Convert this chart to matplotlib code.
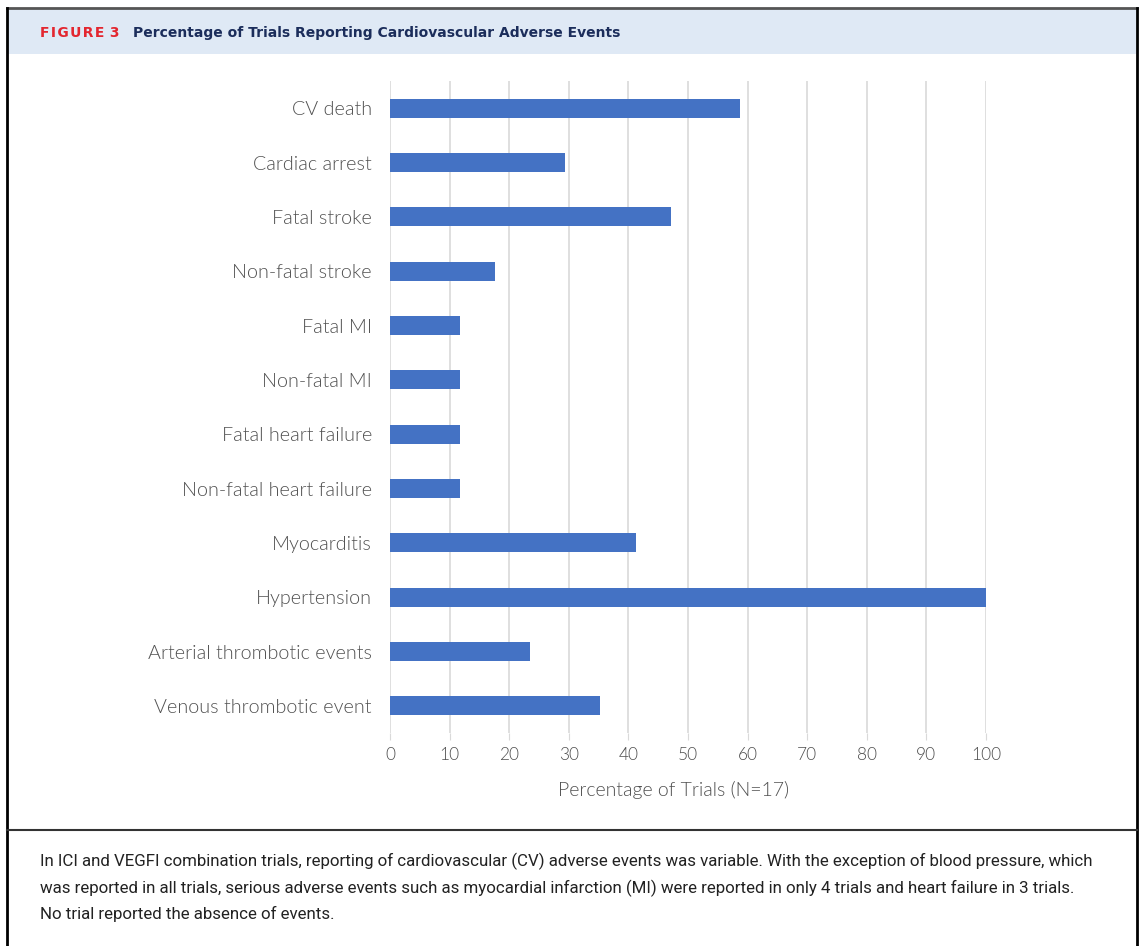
import matplotlib.pyplot as plt
from matplotlib.lines import Line2D
from matplotlib.patches import Rectangle

# ── Data ──────────────────────────────────────────────────────────────────────
categories = [
    "CV death", "Cardiac arrest", "Fatal stroke", "Non-fatal stroke",
    "Fatal MI", "Non-fatal MI", "Fatal heart failure", "Non-fatal heart failure",
    "Myocarditis", "Hypertension", "Arterial thrombotic events",
    "Venous thrombotic event",
]
pct_trials = [58.8, 29.4, 47.1, 17.6, 11.8, 11.8, 11.8, 11.8, 41.2, 100.0, 23.5, 35.3]
x_ticks = [0, 10, 20, 30, 40, 50, 60, 70, 80, 90, 100]

caption = (
    "In ICI and VEGFI combination trials, reporting of cardiovascular (CV) adverse events was variable. "
    "With the exception of blood pressure, which\n"
    "was reported in all trials, serious adverse events such as myocardial infarction (MI) were reported "
    "in only 4 trials and heart failure in 3 trials.\n"
    "No trial reported the absence of events."
)

W, H = 1142, 946
BAR = "#4472C4"
GRID = "#d9d9d9"
LABEL = "#505050"

fig = plt.figure(figsize=(W / 100, H / 100), dpi=100)
fig.patch.set_facecolor("white")


def fx(px):
    return px / W


def fy(py):
    return 1 - py / H


# ── Frame & header ───────────────────────────────────────────────────────────
fig.patches.append(Rectangle((fx(8), fy(54)), fx(1128), 45 / H, transform=fig.transFigure,
                             facecolor="#dfe9f5", edgecolor="none", zorder=0))
for xs, ys, c, lw in [
    ([7, 1137], [8, 8], "#555555", 2),
    ([7, 7], [8, 946], "black", 2),
    ([1137, 1137], [8, 946], "black", 2),
    ([7, 1137], [830, 830], "#333333", 1.5),
]:
    fig.add_artist(Line2D([fx(v) for v in xs], [fy(v) for v in ys], color=c, lw=lw,
                          transform=fig.transFigure))

fig.text(fx(40), fy(33), "F\u200aI\u200aG\u200aU\u200aR\u200aE\u2009\u20093", color="#e3262f",
         fontsize=10, fontweight="bold", family="DejaVu Sans", va="center", ha="left")
fig.text(fx(133), fy(33), "Percentage of Trials Reporting Cardiovascular Adverse Events",
         color="#1b2d5b", fontsize=10, fontweight="bold", family="DejaVu Sans",
         va="center", ha="left")

# ── Chart ────────────────────────────────────────────────────────────────────
ax = fig.add_axes([fx(390), fy(733), fx(986) - fx(390), (733 - 81) / H])
y = list(range(len(categories)))
ax.barh(y, pct_trials, height=0.35, color=BAR, zorder=3)
ax.set_ylim(len(categories) - 0.5, -0.5)
ax.set_xlim(0, 100)
ax.set_xticks(x_ticks)
ax.set_yticks(y)
ax.set_yticklabels(categories, family="Lato", fontweight=300, fontsize=14.2, color=LABEL)
ax.set_xticklabels([str(t) for t in x_ticks], family="Lato", fontweight=300,
                   fontsize=12.5, color=LABEL)
ax.tick_params(axis="y", length=0, pad=13)
ax.tick_params(axis="x", length=5, color=GRID, pad=5)
ax.grid(True, axis="x", color=GRID, lw=1.2, zorder=0)
for s in ax.spines.values():
    s.set_visible(False)
ax.set_xlabel("Percentage of Trials (N=17)", family="Lato", fontweight=300,
              fontsize=14, color=LABEL)
ax.xaxis.set_label_coords(0.475, -0.088)
ax.xaxis.label.set_va("center")

# ── Caption ──────────────────────────────────────────────────────────────────
fig.text(fx(40), fy(853), caption, family="Roboto", fontsize=12.2, color="#222222",
         va="top", ha="left", linespacing=1.68)

fig.savefig("out.png", dpi=100, facecolor="white")
